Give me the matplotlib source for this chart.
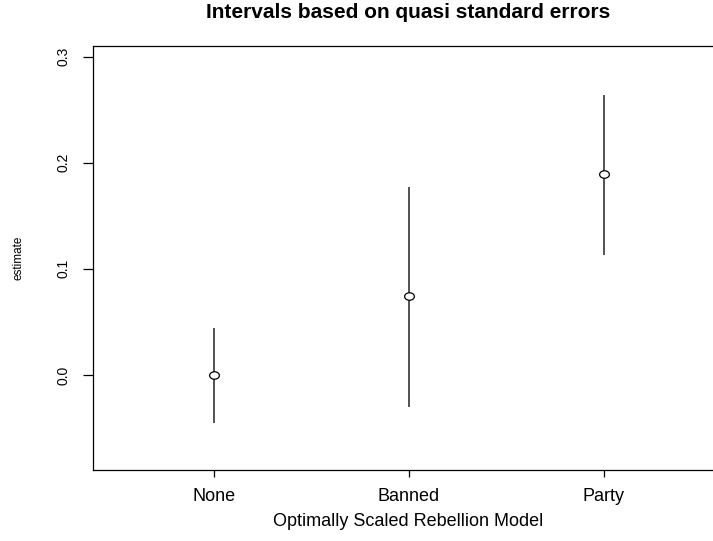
import numpy as np
import matplotlib
matplotlib.use("Agg")
import matplotlib.pyplot as plt
from matplotlib.path import Path

plt.rcParams['font.family'] = ['Liberation Sans', 'DejaVu Sans']

# data
categories = ["None", "Banned", "Party"]
estimate = [0.0, 0.074, 0.189]
lower = [-0.045, -0.030, 0.113]
upper = [0.044, 0.177, 0.264]

x = np.arange(1, len(categories) + 1)

# the reference is stretched sideways, so the open circles are a bit wide
t = np.linspace(0, 2 * np.pi, 60)
ellipse = Path(np.column_stack([1.3 * np.cos(t), np.sin(t)]), closed=True)

fig = plt.figure(figsize=(7.13, 5.41), dpi=100)
ax = fig.add_axes([93 / 713, 1 - 470 / 541, 1 - 93 / 713, (470 - 46) / 541])

ax.vlines(x, lower, upper, color="#444444", lw=1.3)
ax.plot(x, estimate, linestyle="none", marker=ellipse, mfc="white", mec="black", ms=7, mew=0.9)

ax.set_xlim(0.381, 3.56)
ax.set_ylim(-0.0896, 0.310)
ax.set_xticks(x)
ax.set_xticklabels(categories)
ax.set_yticks([0.0, 0.1, 0.2, 0.3])
ax.set_yticklabels(["0.0", "0.1", "0.2", "0.3"], rotation=90, va="center")
ax.tick_params(axis="x", direction="out", length=5, width=0.9, labelsize=13, pad=8)
ax.tick_params(axis="y", direction="out", length=7, width=0.9, labelsize=10, pad=9)
ax.spines["right"].set_visible(False)
for s in ["left", "bottom", "top"]:
    ax.spines[s].set_linewidth(0.9)

ax.set_xlabel("Optimally Scaled Rebellion Model", fontsize=13)
ax.xaxis.set_label_coords((408 - 93) / 620, -(513 - 470) / 424)
ax.set_ylabel("estimate", fontsize=8.5)
ax.yaxis.set_label_coords((24 - 93) / 620, 0.5)
fig.suptitle("Intervals based on quasi standard errors", fontsize=15,
             fontweight="bold", x=408 / 713, y=1 - 13 / 541, va="center")

fig.savefig("out.png", dpi=100)
